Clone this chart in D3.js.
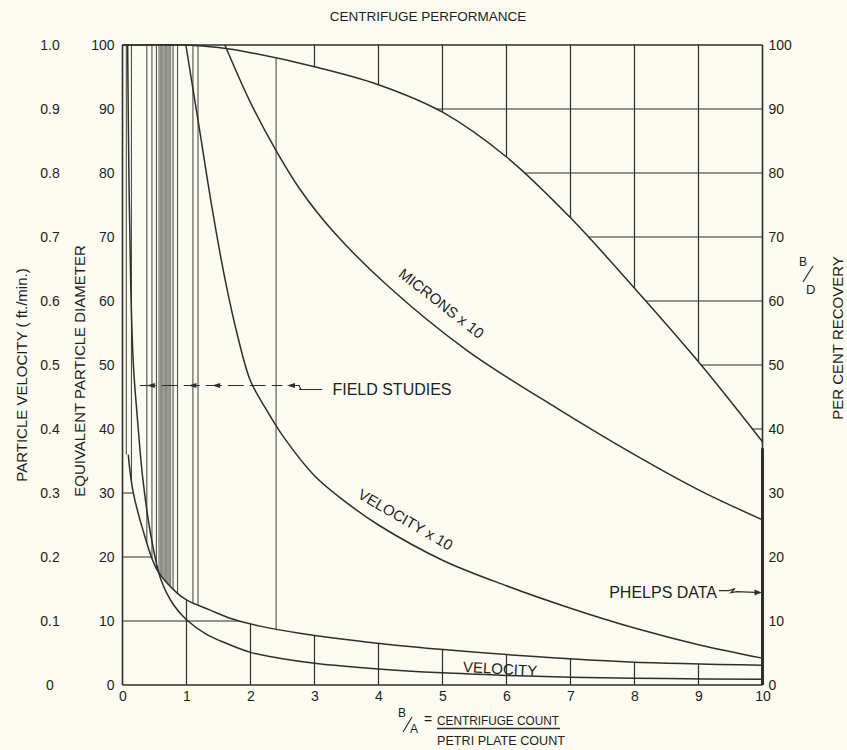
<!DOCTYPE html>
<html>
<head>
<meta charset="utf-8">
<script src="https://cdn.jsdelivr.net/npm/d3@7"></script>
<style>
  body { margin: 0; background: #fbfbf1; }
  svg text { font-family: "Liberation Sans", Arial, sans-serif; fill: #1e1e1e; }
  .axis text { font-size: 14px; }
  .axis .domain { display: none; }
</style>
</head>
<body>
<svg id="chart" width="847" height="750"></svg>
<script>
// ---- data ----
var ratioTicks = [0, 1, 2, 3, 4, 5, 6, 7, 8, 9, 10];
var pctTicks = [0, 10, 20, 30, 40, 50, 60, 70, 80, 90, 100];
var velTicks = [0, 0.1, 0.2, 0.3, 0.4, 0.5, 0.6, 0.7, 0.8, 0.9, 1.0];

// per cent recovery B/D (right scale)
var recoveryX = [0, 1.0, 1.5, 2, 3, 4, 5, 6, 7, 8, 9, 10];
var recoveryV = [100, 100, 99.6, 98.8, 96.6, 93.8, 89.5, 82.5, 73, 62, 50.5, 38];

// equivalent particle diameter, microns x 10
var micronsX10X = [1.6, 2.0, 2.4, 2.77, 3.28, 4.13, 5.38, 6.83, 8.0, 9.0, 10];
var micronsX10V = [100, 91, 83.5, 77.5, 71, 62.5, 52.3, 43, 36, 30.5, 25.8];

// equivalent particle diameter, microns (unlabelled lower curve)
var micronsX = [0.09, 0.16, 0.32, 0.54, 0.85, 1.0, 1.37, 1.72, 2.15, 2.77, 4.02, 5.06, 6.5, 7.92, 10];
var micronsV = [36, 30.5, 24.2, 18, 14.4, 13.3, 11.7, 10.3, 9.2, 8.1, 6.5, 5.5, 4.4, 3.6, 3.1];

// particle velocity x 10, ft./min.
var velocityX10X = [0.99, 1.2, 1.4, 1.6, 1.8, 2.0, 2.25, 2.5, 3.0, 3.5, 4.0, 5.0, 6.0, 7.0, 8.0, 9.0, 10];
var velocityX10V = [1.0, 0.87, 0.745, 0.635, 0.545, 0.475, 0.43, 0.39, 0.327, 0.285, 0.25, 0.195, 0.155, 0.12, 0.089, 0.063, 0.042];

// particle velocity, ft./min.
var velocityX = [0.08, 0.1, 0.13, 0.17, 0.23, 0.32, 0.45, 0.6, 0.8, 1.0, 1.3, 1.6, 2.0, 2.5, 3.0, 4.0, 5.0, 6.0, 7.0, 8.5, 10];
var velocityV = [1.0, 0.8, 0.62, 0.5, 0.42, 0.32, 0.23, 0.165, 0.125, 0.102, 0.08, 0.066, 0.051, 0.041, 0.034, 0.025, 0.019, 0.015, 0.012, 0.010, 0.009];

// field study runs (B/A ratios) and the dense group around 0.6-0.75
var fieldRuns = [0.06, 0.14, 0.38, 0.46, 0.53, 0.79, 0.86, 1.10, 1.18, 2.40];
var fieldBand = [0.57, 0.59, 0.61, 0.63, 0.65, 0.67, 0.69, 0.71, 0.73, 0.75];
var fieldArrows = [0.38, 1.03, 1.4, 2.57];
var fieldLevel = 46.8;
var phelpsTop = 37, phelpsLevel = 14.6;

var svg = d3.select("#chart");

var x = d3.scaleLinear().domain([0, 10]).range([122.5, 762.5]);
var yPct = d3.scaleLinear().domain([0, 100]).range([685, 45]);
var yVel = d3.scaleLinear().domain([0, 1]).range([685, 45]);

function pts(xs, ys) { return xs.map(function(v, i) { return [v, ys[i]]; }); }

function lineFor(yScale) {
  return d3.line().x(function(d) { return x(d[0]); }).y(function(d) { return yScale(d[1]); })
    .curve(d3.curveCatmullRom.alpha(0.5));
}

var recovery = pts(recoveryX, recoveryV),
    micronsX10 = pts(micronsX10X, micronsX10V),
    microns = pts(micronsX, micronsV),
    velocityX10 = pts(velocityX10X, velocityX10V),
    velocity = pts(velocityX, velocityV);

svg.append("rect").attr("width", 847).attr("height", 750).attr("fill", "#fbfbf1");

// clip regions: above / below the recovery curve, above / below the microns curve
var defs = svg.append("defs");
var recPath = lineFor(yPct)(recovery);
var micPath = lineFor(yPct)(microns);
var top100 = "L" + x(10) + "," + yPct(100) + "L" + x(0) + "," + yPct(100);
var bottom0 = "L" + x(10) + "," + yPct(0) + "L" + x(0) + "," + yPct(0);
defs.append("clipPath").attr("id", "aboveRec").append("path").attr("d", recPath + top100 + "Z");
defs.append("clipPath").attr("id", "belowRec").append("path").attr("d", recPath + bottom0 + "Z");
defs.append("clipPath").attr("id", "aboveMic").append("path")
    .attr("d", micPath + top100 + "L" + x(0) + "," + yPct(micronsV[0]) + "Z");
defs.append("clipPath").attr("id", "belowMic").append("path")
    .attr("d", micPath + bottom0 + "L" + x(0) + "," + yPct(micronsV[0]) + "Z");

var ink = "#2e2e2e";

// upper grid, only drawn above the recovery curve
var gTop = svg.append("g").attr("clip-path", "url(#aboveRec)").attr("stroke", ink).attr("stroke-width", 1.2);
gTop.selectAll("line.h").data(pctTicks.filter(function(d) { return d > 0 && d < 100; }))
  .enter().append("line")
    .attr("x1", x(0)).attr("x2", x(10)).attr("y1", function(d) { return yPct(d); }).attr("y2", function(d) { return yPct(d); });
gTop.selectAll("line.v").data(ratioTicks.filter(function(d) { return d > 2 && d < 10; }))
  .enter().append("line")
    .attr("x1", function(d) { return x(d); }).attr("x2", function(d) { return x(d); }).attr("y1", yPct(0)).attr("y2", yPct(100));

// lower grid, only below the microns curve
var gBot = svg.append("g").attr("clip-path", "url(#belowMic)").attr("stroke", ink).attr("stroke-width", 1.2);
gBot.selectAll("line.h").data([10, 20, 30])
  .enter().append("line")
    .attr("x1", x(0)).attr("x2", x(10)).attr("y1", function(d) { return yPct(d); }).attr("y2", function(d) { return yPct(d); });
gBot.selectAll("line.v").data(ratioTicks.filter(function(d) { return d > 0 && d < 10; }))
  .enter().append("line")
    .attr("x1", function(d) { return x(d); }).attr("x2", function(d) { return x(d); }).attr("y1", yPct(0)).attr("y2", yPct(100));

// field study verticals, between the recovery curve and the microns curve
var gField = svg.append("g").attr("clip-path", "url(#aboveMic)")
  .append("g").attr("clip-path", "url(#belowRec)");
gField.selectAll("line.band").data(fieldBand)
  .enter().append("line")
    .attr("x1", function(d) { return x(d); }).attr("x2", function(d) { return x(d); })
    .attr("y1", yPct(100)).attr("y2", yPct(0))
    .attr("stroke", "#8a8a86").attr("stroke-width", 1.4);
gField.selectAll("line.run").data(fieldRuns)
  .enter().append("line")
    .attr("x1", function(d) { return x(d); }).attr("x2", function(d) { return x(d); })
    .attr("y1", yPct(100)).attr("y2", yPct(0))
    .attr("stroke", "#505050").attr("stroke-width", 1.1);

// frame
var frame = svg.append("g").attr("stroke", ink).attr("stroke-width", 1.6).attr("fill", "none");
frame.append("line").attr("x1", x(0)).attr("x2", x(0)).attr("y1", yPct(0)).attr("y2", yPct(100));
frame.append("line").attr("x1", x(10)).attr("x2", x(10)).attr("y1", yPct(0)).attr("y2", yPct(100));
frame.append("line").attr("x1", x(0)).attr("x2", x(10)).attr("y1", yPct(0)).attr("y2", yPct(0));
frame.append("line").attr("x1", x(0)).attr("x2", x(10)).attr("y1", yPct(100)).attr("y2", yPct(100));
// Phelps data, heavy stroke on the right edge
frame.append("line").attr("x1", x(10)).attr("x2", x(10)).attr("y1", yPct(0)).attr("y2", yPct(phelpsTop))
    .attr("stroke-width", 3);

// curves
var curves = svg.append("g").attr("fill", "none").attr("stroke", ink).attr("stroke-width", 1.5);
curves.append("path").attr("d", recPath);
curves.append("path").attr("d", lineFor(yPct)(micronsX10));
curves.append("path").attr("d", micPath);
curves.append("path").attr("d", lineFor(yVel)(velocityX10));
curves.append("path").attr("d", lineFor(yVel)(velocity));

// field studies arrow line
var fy = yPct(fieldLevel);
svg.append("line").attr("x1", x(0.27)).attr("x2", x(2.5)).attr("y1", fy).attr("y2", fy)
    .attr("stroke", ink).attr("stroke-width", 1.2).attr("stroke-dasharray", "16,6");
svg.selectAll("path.arr").data(fieldArrows)
  .enter().append("path")
    .attr("d", function(d) { var px = x(d); return "M" + px + "," + fy + "l8,-2.5l0,5z"; })
    .attr("fill", ink);
svg.append("path")
    .attr("d", "M" + (x(2.57) + 8) + "," + fy + "l4,0l2,4l-2,0l4,0L" + x(3.12) + "," + (fy + 4))
    .attr("fill", "none").attr("stroke", ink).attr("stroke-width", 1.2);
svg.append("text").attr("x", x(3.28)).attr("y", fy + 10).attr("font-size", 16).text("FIELD STUDIES");

// Phelps data pointer
var py = yPct(phelpsLevel);
svg.append("path")
    .attr("d", "M" + x(9.32) + "," + (py - 1) + "l10,0l6,-2l-4,4l6,-1L" + (x(10) - 2) + "," + (py + 1))
    .attr("fill", "none").attr("stroke", ink).attr("stroke-width", 1.2);
svg.append("path").attr("d", "M" + (x(10) - 1) + "," + (py + 1) + "l-7,-3l0,6z").attr("fill", ink);
svg.append("text").attr("x", x(9.29)).attr("y", py + 6).attr("text-anchor", "end").attr("font-size", 16).text("PHELPS DATA");

// curve labels
function curveLabel(txt, xv, yv, ang, size) {
  svg.append("text")
    .attr("transform", "translate(" + x(xv) + "," + yPct(yv) + ") rotate(" + ang + ")")
    .attr("text-anchor", "middle").attr("y", 5).attr("font-size", size).text(txt);
}
curveLabel("MICRONS x 10", 4.98, 59.6, 38, 15);
curveLabel("VELOCITY x 10", 4.42, 25.8, 30, 15);
curveLabel("VELOCITY", 5.9, 2.5, 3, 15);

// axes
svg.append("g").attr("class", "axis")
    .attr("transform", "translate(" + x(0) + ",0)")
    .call(d3.axisLeft(yPct).tickValues(pctTicks).tickSize(0).tickPadding(8).tickFormat(d3.format("d")));
svg.append("g").attr("class", "axis")
    .attr("transform", "translate(50,0)")
    .call(d3.axisLeft(yVel).tickValues(velTicks).tickSize(0).tickPadding(0)
      .tickFormat(function(d) { return d === 0 ? "0" : d3.format(".1f")(d); }))
    .selectAll("text").attr("text-anchor", "middle");
svg.append("g").attr("class", "axis")
    .attr("transform", "translate(" + x(10) + ",0)")
    .call(d3.axisRight(yPct).tickValues(pctTicks).tickSize(0).tickPadding(6).tickFormat(d3.format("d")));
svg.append("g").attr("class", "axis")
    .attr("transform", "translate(0," + yPct(0) + ")")
    .call(d3.axisBottom(x).tickValues(ratioTicks).tickSize(0).tickPadding(6).tickFormat(d3.format("d")));

// titles
svg.append("text").attr("x", 428).attr("y", 21).attr("text-anchor", "middle").attr("font-size", 13.5)
    .text("CENTRIFUGE PERFORMANCE");
svg.append("text").attr("transform", "translate(27,375) rotate(-90)").attr("text-anchor", "middle")
    .attr("font-size", 15).text("PARTICLE VELOCITY ( ft./min.)");
svg.append("text").attr("transform", "translate(85,371) rotate(-90)").attr("text-anchor", "middle")
    .attr("font-size", 15).text("EQUIVALENT PARTICLE DIAMETER");
svg.append("text").attr("transform", "translate(843,338) rotate(-90)").attr("text-anchor", "middle")
    .attr("font-size", 15).text("PER CENT RECOVERY");

// B/D fraction
svg.append("text").attr("x", 799).attr("y", 266).attr("font-size", 12).text("B");
svg.append("line").attr("x1", 803).attr("y1", 282).attr("x2", 813).attr("y2", 266)
    .attr("stroke", ink).attr("stroke-width", 1.2);
svg.append("text").attr("x", 806).attr("y", 294).attr("font-size", 13).text("D");

// x title
svg.append("text").attr("x", 398).attr("y", 717).attr("font-size", 12).text("B");
svg.append("line").attr("x1", 403).attr("y1", 732).attr("x2", 412).attr("y2", 717)
    .attr("stroke", ink).attr("stroke-width", 1.2);
svg.append("text").attr("x", 410).attr("y", 733).attr("font-size", 12).text("A");
svg.append("text").attr("x", 424).attr("y", 724).attr("font-size", 14).text("=");
svg.append("text").attr("x", 437).attr("y", 725).attr("font-size", 13)
    .attr("textLength", 122).attr("lengthAdjust", "spacingAndGlyphs").text("CENTRIFUGE COUNT");
svg.append("line").attr("x1", 437).attr("x2", 560).attr("y1", 728.5).attr("y2", 728.5)
    .attr("stroke", ink).attr("stroke-width", 1.3);
svg.append("text").attr("x", 437).attr("y", 745).attr("font-size", 13)
    .attr("textLength", 128).attr("lengthAdjust", "spacingAndGlyphs").text("PETRI PLATE COUNT");
</script>
</body>
</html>
